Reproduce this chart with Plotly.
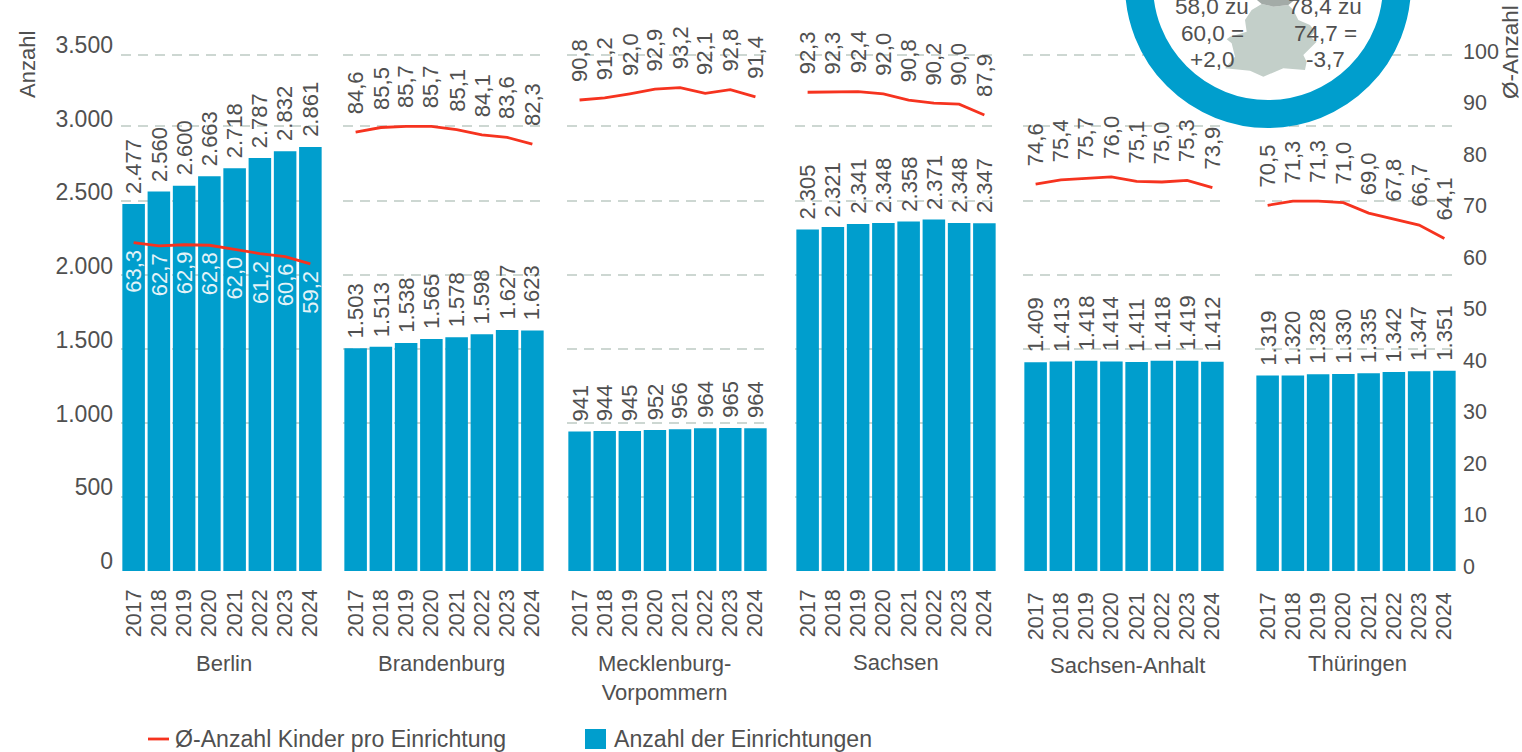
import plotly.graph_objects as go

W, H = 1522, 752
YEARS = ["2017", "2018", "2019", "2020", "2021", "2022", "2023", "2024"]
STATES = ["Berlin", "Brandenburg", "Mecklenburg-<br>Vorpommern", "Sachsen", "Sachsen-Anhalt", "Thüringen"]

EINRICHTUNGEN_BERLIN = [2477, 2560, 2600, 2663, 2718, 2787, 2832, 2861]
EINRICHTUNGEN_BRANDENBURG = [1503, 1513, 1538, 1565, 1578, 1598, 1627, 1623]
EINRICHTUNGEN_MV = [941, 944, 945, 952, 956, 964, 965, 964]
EINRICHTUNGEN_SACHSEN = [2305, 2321, 2341, 2348, 2358, 2371, 2348, 2347]
EINRICHTUNGEN_ST = [1409, 1413, 1418, 1414, 1411, 1418, 1419, 1412]
EINRICHTUNGEN_TH = [1319, 1320, 1328, 1330, 1335, 1342, 1347, 1351]

KINDER_BERLIN = [63.3, 62.7, 62.9, 62.8, 62.0, 61.2, 60.6, 59.2]
KINDER_BRANDENBURG = [84.6, 85.5, 85.7, 85.7, 85.1, 84.1, 83.6, 82.3]
KINDER_MV = [90.8, 91.2, 92.0, 92.9, 93.2, 92.1, 92.8, 91.4]
KINDER_SACHSEN = [92.3, 92.3, 92.4, 92.0, 90.8, 90.2, 90.0, 87.9]
KINDER_ST = [74.6, 75.4, 75.7, 76.0, 75.1, 75.0, 75.3, 73.9]
KINDER_TH = [70.5, 71.3, 71.3, 71.0, 69.0, 67.8, 66.7, 64.1]

BARS = [EINRICHTUNGEN_BERLIN, EINRICHTUNGEN_BRANDENBURG, EINRICHTUNGEN_MV,
        EINRICHTUNGEN_SACHSEN, EINRICHTUNGEN_ST, EINRICHTUNGEN_TH]
LINES = [KINDER_BERLIN, KINDER_BRANDENBURG, KINDER_MV, KINDER_SACHSEN, KINDER_ST, KINDER_TH]

LEFT_TICKS = [0, 500, 1000, 1500, 2000, 2500, 3000, 3500]
RIGHT_TICKS = [0, 10, 20, 30, 40, 50, 60, 70, 80, 90, 100]
GRID_VALUES = [500, 1000, 1500, 2000, 2500, 3000, 3483]

# layout (pixels)
PANELS = [(121, 323), (343, 545), (567, 768), (795, 997), (1023, 1225), (1255, 1457)]
TICK_STANDOFF = [13, 13, 13, 13, 16, 16]
STATE_X = [224, 441, 664, 896, 1127, 1357]
STATE_Y = [663, 663, 663, 662, 665, 663]

BLUE = "#009ecd"
RED = "#f6331f"
GREY = "#c3cfc9"
TEXT = "#505050"
FS = 22
FONT = "Liberation Sans"


def fx(px):
    return px / W


def fy(py):
    return 1 - py / H


def de(v, dec=0):
    s = f"{v:,.{dec}f}"
    return s.replace(",", "#").replace(".", ",").replace("#", ".")


fig = go.Figure()
annotations = []


def txt(px, py, text, size=FS, angle=0, xanchor="center", yanchor="middle", color=TEXT):
    annotations.append(dict(xref="paper", yref="paper", x=fx(px), y=fy(py), text=text, showarrow=False,
                            xanchor=xanchor, yanchor=yanchor, textangle=angle, borderpad=0,
                            font=dict(size=size, color=color)))


for i, (state, bars, line) in enumerate(zip(STATES, BARS, LINES)):
    xid = "x" if i == 0 else f"x{i + 1}"
    fig.add_trace(go.Bar(x=YEARS, y=bars, xaxis=xid, yaxis="y", name="Anzahl der Einrichtungen",
                         marker=dict(color=BLUE, line=dict(width=0)), showlegend=False))
    fig.add_trace(go.Scatter(x=YEARS, y=line, xaxis=xid, yaxis="y2", mode="lines",
                             name="Ø-Anzahl Kinder pro Einrichtung",
                             line=dict(color=RED, width=2.8), showlegend=False))
    for j, (b, k) in enumerate(zip(bars, line)):
        annotations.append(dict(xref=xid, yref="y", x=j, y=b, text=de(b), showarrow=False, textangle=-90,
                                xanchor="center", yanchor="bottom", yshift=9, borderpad=0,
                                font=dict(size=FS, color=TEXT)))
        if i == 0:
            annotations.append(dict(xref=xid, yref="y2", x=j, y=k, text=de(k, 1), showarrow=False, textangle=-90,
                                    xanchor="center", yanchor="top", yshift=-6, borderpad=0,
                                    font=dict(size=FS, color="#e4f3f8")))
        else:
            annotations.append(dict(xref=xid, yref="y2", x=j, y=k, text=de(k, 1), showarrow=False, textangle=-90,
                                    xanchor="center", yanchor="bottom", yshift=17, borderpad=0,
                                    font=dict(size=FS, color=TEXT)))
    txt(STATE_X[i], STATE_Y[i] - 13, state, yanchor="top")

layout = dict(
    width=W, height=H, autosize=False, margin=dict(l=0, r=0, t=0, b=0, autoexpand=False),
    paper_bgcolor="white", plot_bgcolor="rgba(0,0,0,0)", showlegend=False, bargap=0.107,
    separators=",.", font=dict(family=FONT, size=FS, color=TEXT),
)

for i, (a, b) in enumerate(PANELS):
    key = "xaxis" if i == 0 else f"xaxis{i + 1}"
    layout[key] = dict(domain=[fx(a), fx(b)], anchor="y", type="category", categoryorder="array",
                       categoryarray=YEARS, range=[-0.5, 7.5], tickangle=-90, showgrid=False, zeroline=False,
                       showline=False, ticks="", tickmode="array", tickvals=YEARS, ticktext=YEARS,
                       ticklabelstandoff=TICK_STANDOFF[i],
                       tickfont=dict(size=21.5, color=TEXT))

y_dom = [fy(571), fy(52.3)]
layout["yaxis"] = dict(domain=y_dom, range=[0, 3500], tickmode="array", tickvals=GRID_VALUES,
                       showticklabels=False, ticks="", showgrid=True, gridcolor="#cdd7d2", griddash="10px,7px",
                       gridwidth=1.7, zeroline=False, showline=False)
layout["yaxis2"] = dict(domain=y_dom, range=[0, 100], overlaying="y", side="right", anchor="x6",
                        showgrid=False, showticklabels=False, ticks="", zeroline=False, showline=False)

# the printed scale labels sit a little above the grid lines: they get their own axes on a hidden x axis
layout["xaxis7"] = dict(domain=[fx(114), fx(1462)], anchor="y3", visible=False, range=[0, 1])
layout["xaxis8"] = dict(domain=[fx(114), fx(1462)], anchor="y4", visible=False, range=[0, 1])
layout["yaxis3"] = dict(domain=[fy(561), fy(45)], range=[0, 3500], anchor="x7", side="left",
                        tickmode="array", tickvals=LEFT_TICKS, tickformat=",d", showgrid=False, zeroline=False,
                        showline=False, ticks="", tickfont=dict(size=23, color=TEXT))
layout["yaxis4"] = dict(domain=[fy(566), fy(51)], range=[0, 100], anchor="x8", side="right",
                        tickmode="array", tickvals=RIGHT_TICKS, showgrid=False, zeroline=False, showline=False,
                        ticks="", tickfont=dict(size=21.5, color=TEXT))

fig.add_trace(go.Scatter(x=[None], y=[None], yaxis="y3", xaxis="x7", showlegend=False, hoverinfo="skip"))
fig.add_trace(go.Scatter(x=[None], y=[None], yaxis="y4", xaxis="x8", showlegend=False, hoverinfo="skip"))

txt(27, 65, "Anzahl", angle=-90)
txt(1510, 52, "Ø-Anzahl", size=22.5, angle=-90)

# inset: ring + map of Germany
RING = (1268, -15, 129)
MAP_LIGHT = [(395, 12), (430, 20), (475, 15), (490, 30), (505, 60), (540, 75), (555, 95), (540, 110), (560, 125),
             (520, 165), (530, 185), (525, 210), (460, 205), (400, 230), (360, 212), (285, 205), (315, 170),
             (305, 130), (290, 118), (300, 110), (350, 95), (345, 60), (365, 30)]
MAP_DARK = [(375, -5), (500, -5), (475, 15), (430, 20), (395, 12)]


def path(points):
    p = [(1130 + x / 3, y / 3) for x, y in points]
    return "M" + " L".join(f"{fx(x):.5f},{fy(y):.5f}" for x, y in p) + " Z"


shapes = [
    dict(type="circle", xref="paper", yref="paper", layer="above",
         x0=fx(RING[0] - RING[2]), x1=fx(RING[0] + RING[2]), y0=fy(RING[1] + RING[2]), y1=fy(RING[1] - RING[2]),
         fillcolor="white", line=dict(color=BLUE, width=28)),
    dict(type="path", xref="paper", yref="paper", layer="above", path=path(MAP_LIGHT), fillcolor=GREY,
         line=dict(width=0)),
    dict(type="path", xref="paper", yref="paper", layer="above", path=path(MAP_DARK), fillcolor="#a3aba7",
         line=dict(width=0)),
    # legend keys
    dict(type="line", xref="paper", yref="paper", x0=fx(148), x1=fx(169), y0=fy(739), y1=fy(739),
         line=dict(color=RED, width=2.8)),
    dict(type="rect", xref="paper", yref="paper", x0=fx(585), x1=fx(606), y0=fy(749), y1=fy(729),
         fillcolor=BLUE, line=dict(width=0)),
]

for cx, lines in ((1212, ["58,0 zu", "60,0 =", "+2,0"]), (1325, ["78,4 zu", "74,7 =", "-3,7"])):
    for py, s in zip((7, 33, 60), lines):
        txt(cx, py, s, size=22.5)

txt(174, 739, "Ø-Anzahl Kinder pro Einrichtung", size=23.1, xanchor="left")
txt(613, 739, "Anzahl der Einrichtungen", size=23.1, xanchor="left")

layout["annotations"] = annotations
layout["shapes"] = shapes
fig.update_layout(**layout)

fig.write_html("out.html", post_script="document.body.style.margin='0';document.body.style.overflow='hidden';",
               config={"displayModeBar": False})
